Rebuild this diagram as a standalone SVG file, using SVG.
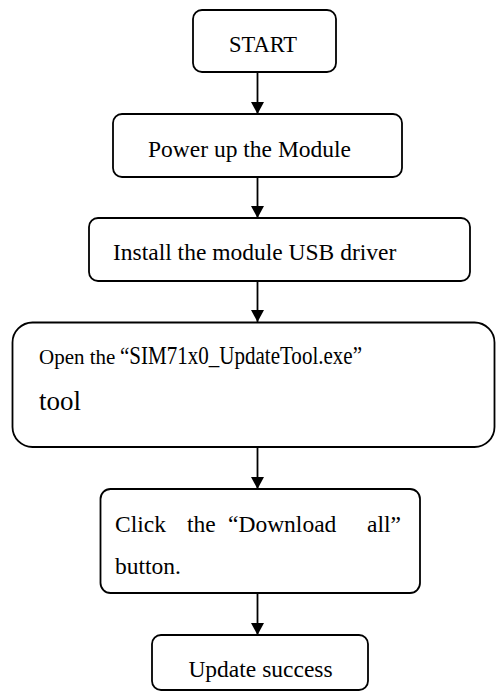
<svg xmlns="http://www.w3.org/2000/svg" width="497" height="693" viewBox="0 0 497 693">
<style>
  .box { fill: #ffffff; stroke: #000000; stroke-width: 1.8; }
  .t { font-family: "Liberation Serif", "Times New Roman", serif; font-size: 23.5px; fill: #000000; }
  .conn { stroke: #000000; stroke-width: 1.8; fill: none; marker-end: url(#arr); }
</style>
<defs>
  <marker id="arr" viewBox="0 0 12 13" refX="12" refY="6.5" markerWidth="12" markerHeight="13" markerUnits="userSpaceOnUse" orient="auto">
    <path d="M0,0 L12,6.5 L0,13 Z" fill="#000000"/>
  </marker>
</defs>
<rect width="497" height="693" fill="#ffffff"/>
<g id="connectors">
  <line class="conn" x1="257.5" y1="72" x2="257.5" y2="114"/>
  <line class="conn" x1="257.5" y1="177" x2="257.5" y2="218"/>
  <line class="conn" x1="257.5" y1="281" x2="257.5" y2="322"/>
  <line class="conn" x1="257.5" y1="447" x2="257.5" y2="489"/>
  <line class="conn" x1="257.5" y1="593" x2="257.5" y2="635"/>
</g>
<g id="start">
  <rect class="box" x="193" y="10" width="143" height="62" rx="9"/>
  <text class="t" x="263" y="52" text-anchor="middle" style="font-size:22.5px">START</text>
</g>
<g id="power">
  <rect class="box" x="113" y="114" width="289" height="63" rx="9"/>
  <text class="t" x="148" y="156.5">Power up the Module</text>
</g>
<g id="install">
  <rect class="box" x="89" y="218" width="381" height="63" rx="9"/>
  <text class="t" x="113" y="260">Install the module USB driver</text>
</g>
<g id="open">
  <rect class="box" x="12.5" y="322.5" width="482" height="124.5" rx="20"/>
  <text class="t" x="39" y="364" style="font-size:21px">Open the</text>
  <text class="t" x="120" y="364" style="font-size:25px" textLength="242" lengthAdjust="spacingAndGlyphs">“SIM71x0_UpdateTool.exe”</text>
  <text class="t" x="39" y="410" style="font-size:27px">tool</text>
</g>
<g id="click">
  <rect class="box" x="100.5" y="489" width="319.5" height="104" rx="10"/>
  <text class="t" x="115" y="532">Click</text>
  <text class="t" x="187" y="532">the</text>
  <text class="t" x="228" y="532">“Download</text>
  <text class="t" x="367" y="532">all”</text>
  <text class="t" x="115" y="574">button.</text>
</g>
<g id="update">
  <rect class="box" x="152" y="635" width="216" height="55" rx="9"/>
  <text class="t" x="260.5" y="677" text-anchor="middle">Update success</text>
</g>
</svg>
